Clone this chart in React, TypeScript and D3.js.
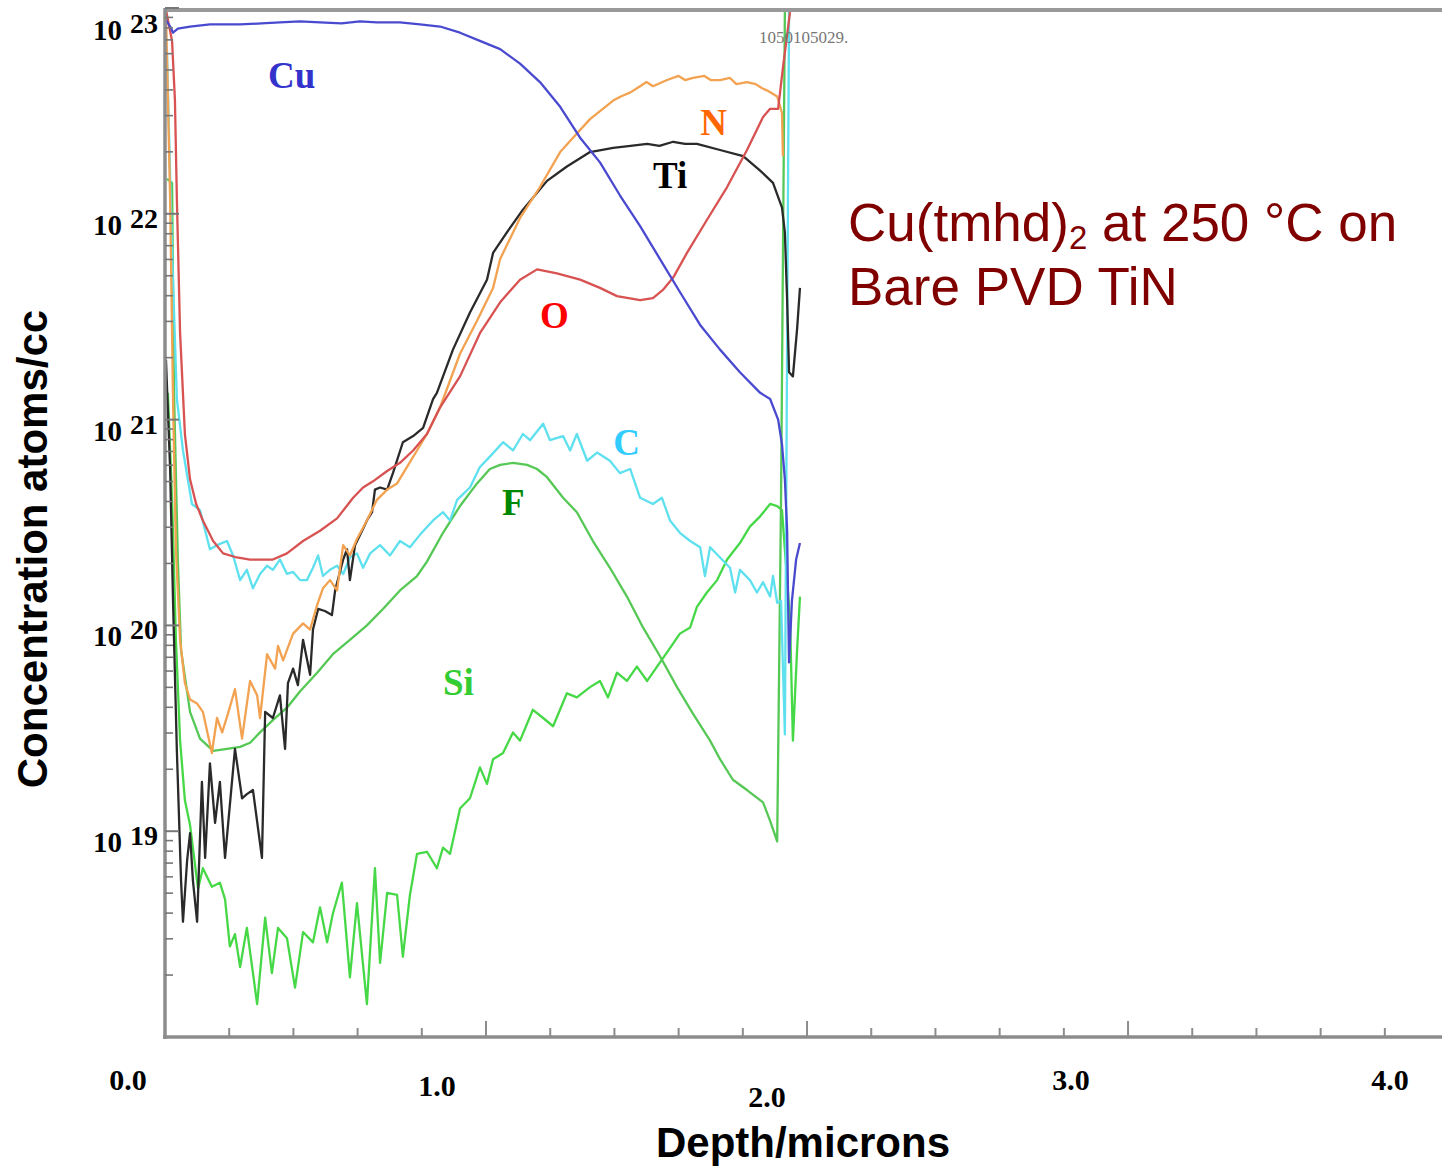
import React from "react";
import * as d3 from "d3";

// ---- data: [depth (µm), log10 concentration (atoms/cc)] ----
type P = [number, number];

const cu: P[] = [
  [0, 22.95], [0.016, 22.91], [0.025, 22.88], [0.04, 22.9], [0.078, 22.91], [0.14, 22.92],
  [0.234, 22.92], [0.3, 22.925], [0.358, 22.93], [0.42, 22.935], [0.483, 22.93], [0.55, 22.925],
  [0.607, 22.935], [0.66, 22.93], [0.732, 22.93], [0.794, 22.92], [0.857, 22.91], [0.919, 22.88],
  [0.981, 22.84], [1.044, 22.8], [1.106, 22.73], [1.168, 22.64], [1.231, 22.52], [1.293, 22.37],
  [1.355, 22.25], [1.417, 22.09], [1.48, 21.94], [1.542, 21.78], [1.604, 21.62], [1.667, 21.46],
  [1.729, 21.34], [1.791, 21.23], [1.854, 21.13], [1.885, 21.1], [1.91, 21.0], [1.922, 20.88],
  [1.931, 20.71], [1.938, 20.46], [1.941, 20.12], [1.944, 19.82], [1.953, 20.12], [1.966, 20.32],
  [1.978, 20.4],
];

const nitrogen: P[] = [
  [0.003, 22.99], [0.016, 22.07], [0.025, 21.1], [0.034, 20.37], [0.047, 19.93], [0.062, 19.72],
  [0.078, 19.64], [0.1, 19.62], [0.118, 19.58], [0.146, 19.38], [0.162, 19.55], [0.178, 19.48],
  [0.196, 19.57], [0.218, 19.69], [0.24, 19.45], [0.265, 19.73], [0.287, 19.66], [0.296, 19.55],
  [0.318, 19.86], [0.343, 19.79], [0.352, 19.9], [0.368, 19.83], [0.399, 19.96], [0.43, 20.01],
  [0.452, 19.98], [0.474, 20.1], [0.492, 20.18], [0.514, 20.22], [0.536, 20.17], [0.555, 20.39],
  [0.576, 20.34], [0.598, 20.42], [0.629, 20.51], [0.66, 20.61], [0.692, 20.66], [0.723, 20.69],
  [0.754, 20.77], [0.785, 20.85], [0.816, 20.93], [0.857, 21.06], [0.919, 21.32], [0.972, 21.48],
  [1.022, 21.64], [1.044, 21.78], [1.106, 21.98], [1.168, 22.13], [1.231, 22.3], [1.283, 22.39],
  [1.324, 22.46], [1.396, 22.55], [1.42, 22.57], [1.45, 22.59], [1.48, 22.62], [1.5, 22.64],
  [1.52, 22.62], [1.564, 22.65], [1.6, 22.67], [1.62, 22.65], [1.645, 22.66], [1.68, 22.67],
  [1.7, 22.65], [1.729, 22.65], [1.76, 22.66], [1.78, 22.63], [1.813, 22.64], [1.84, 22.63],
  [1.86, 22.61], [1.875, 22.6], [1.907, 22.57], [1.922, 22.49], [1.925, 22.28],
];

const titanium: P[] = [
  [0.003, 21.29], [0.016, 20.76], [0.025, 20.12], [0.037, 19.39], [0.05, 18.76], [0.056, 18.56],
  [0.069, 18.86], [0.078, 18.99], [0.087, 18.76], [0.1, 18.56], [0.115, 19.24], [0.125, 18.87],
  [0.14, 19.33], [0.156, 19.04], [0.171, 19.24], [0.187, 18.87], [0.218, 19.4], [0.24, 19.16],
  [0.255, 19.18], [0.274, 19.2], [0.302, 18.87], [0.312, 19.58], [0.336, 19.55], [0.358, 19.66],
  [0.374, 19.4], [0.383, 19.72], [0.399, 19.79], [0.414, 19.71], [0.43, 19.93], [0.452, 19.76],
  [0.461, 19.98], [0.477, 20.08], [0.498, 20.07], [0.52, 20.05], [0.53, 20.17], [0.555, 20.32],
  [0.567, 20.37], [0.576, 20.22], [0.592, 20.39], [0.617, 20.47], [0.629, 20.51], [0.645, 20.55],
  [0.654, 20.66], [0.67, 20.67], [0.692, 20.66], [0.71, 20.74], [0.741, 20.89], [0.773, 20.92],
  [0.804, 20.96], [0.835, 21.1], [0.847, 21.13], [0.897, 21.34], [0.95, 21.52], [1.003, 21.68],
  [1.022, 21.81], [1.065, 21.91], [1.115, 22.02], [1.19, 22.16], [1.252, 22.23], [1.324, 22.3],
  [1.396, 22.32], [1.45, 22.33], [1.502, 22.34], [1.54, 22.33], [1.583, 22.35], [1.62, 22.34],
  [1.657, 22.34], [1.729, 22.31], [1.801, 22.28], [1.854, 22.21], [1.894, 22.15], [1.922, 22.03],
  [1.931, 21.91], [1.938, 21.58], [1.944, 21.23], [1.956, 21.21], [1.969, 21.44], [1.978, 21.64],
];

const oxygen: P[] = [
  [0.003, 22.99], [0.022, 22.84], [0.031, 22.55], [0.037, 22.07], [0.047, 21.42], [0.062, 20.93],
  [0.078, 20.71], [0.097, 20.59], [0.118, 20.51], [0.15, 20.41], [0.181, 20.35], [0.224, 20.33],
  [0.265, 20.32], [0.336, 20.32], [0.38, 20.35], [0.43, 20.41], [0.483, 20.46], [0.536, 20.52],
  [0.586, 20.62], [0.617, 20.67], [0.648, 20.7], [0.692, 20.75], [0.732, 20.79], [0.773, 20.85],
  [0.816, 20.93], [0.857, 21.06], [0.919, 21.21], [0.981, 21.42], [1.044, 21.57], [1.106, 21.68],
  [1.159, 21.73], [1.221, 21.71], [1.293, 21.68], [1.355, 21.64], [1.408, 21.6], [1.48, 21.58],
  [1.52, 21.59], [1.551, 21.63], [1.583, 21.69], [1.626, 21.81], [1.688, 21.97], [1.751, 22.13],
  [1.813, 22.31], [1.863, 22.47], [1.885, 22.51], [1.91, 22.51], [1.925, 22.71], [1.947, 22.98],
];

const carbon: P[] = [
  [0.006, 22.8], [0.022, 21.82], [0.037, 21.1], [0.056, 20.85], [0.084, 20.59], [0.109, 20.56],
  [0.14, 20.37], [0.162, 20.39], [0.193, 20.41], [0.212, 20.34], [0.234, 20.22], [0.255, 20.27],
  [0.274, 20.18], [0.296, 20.25], [0.318, 20.29], [0.336, 20.27], [0.358, 20.32], [0.38, 20.25],
  [0.399, 20.26], [0.421, 20.22], [0.442, 20.22], [0.461, 20.28], [0.477, 20.34], [0.492, 20.24],
  [0.514, 20.27], [0.536, 20.29], [0.555, 20.25], [0.576, 20.33], [0.598, 20.35], [0.617, 20.28],
  [0.639, 20.35], [0.67, 20.39], [0.701, 20.34], [0.732, 20.41], [0.763, 20.38], [0.794, 20.44],
  [0.835, 20.51], [0.866, 20.55], [0.888, 20.51], [0.91, 20.61], [0.95, 20.67], [0.981, 20.77],
  [1.012, 20.82], [1.053, 20.89], [1.084, 20.85], [1.115, 20.93], [1.137, 20.9], [1.178, 20.98],
  [1.199, 20.9], [1.24, 20.92], [1.262, 20.85], [1.283, 20.93], [1.315, 20.8], [1.346, 20.84],
  [1.386, 20.8], [1.417, 20.74], [1.449, 20.76], [1.48, 20.62], [1.52, 20.59], [1.548, 20.62],
  [1.573, 20.51], [1.604, 20.45], [1.636, 20.41], [1.667, 20.38], [1.682, 20.24], [1.698, 20.38],
  [1.729, 20.33], [1.76, 20.28], [1.776, 20.16], [1.791, 20.27], [1.822, 20.22], [1.844, 20.16],
  [1.863, 20.21], [1.885, 20.14], [1.894, 20.24], [1.907, 20.11], [1.919, 20.12], [1.931, 19.47],
  [1.944, 22.99],
];

const fluorine: P[] = [
  [0.006, 22.17], [0.022, 22.15], [0.028, 21.14], [0.04, 20.32], [0.05, 19.88], [0.078, 19.58],
  [0.109, 19.45], [0.15, 19.39], [0.193, 19.4], [0.234, 19.41], [0.265, 19.43], [0.296, 19.48],
  [0.336, 19.54], [0.38, 19.6], [0.421, 19.68], [0.474, 19.77], [0.523, 19.86], [0.576, 19.93],
  [0.629, 20.0], [0.679, 20.08], [0.732, 20.17], [0.785, 20.24], [0.816, 20.31], [0.866, 20.45],
  [0.919, 20.58], [0.972, 20.69], [1.012, 20.76], [1.044, 20.78], [1.084, 20.79], [1.128, 20.78],
  [1.159, 20.76], [1.19, 20.72], [1.24, 20.62], [1.283, 20.55], [1.333, 20.41], [1.386, 20.28],
  [1.439, 20.14], [1.489, 19.99], [1.542, 19.85], [1.595, 19.7], [1.645, 19.57], [1.698, 19.44],
  [1.729, 19.35], [1.769, 19.25], [1.813, 19.2], [1.863, 19.14], [1.885, 19.05], [1.907, 18.95],
  [1.919, 20.61], [1.931, 22.99],
];

const silicon: P[] = [
  [0.009, 21.13], [0.022, 20.61], [0.034, 19.93], [0.047, 19.44], [0.062, 19.15], [0.078, 19.03],
  [0.103, 18.72], [0.118, 18.82], [0.146, 18.73], [0.171, 18.75], [0.187, 18.67], [0.202, 18.44],
  [0.218, 18.5], [0.234, 18.34], [0.255, 18.53], [0.287, 18.16], [0.312, 18.58], [0.333, 18.31],
  [0.352, 18.53], [0.38, 18.48], [0.405, 18.24], [0.43, 18.51], [0.461, 18.46], [0.483, 18.63],
  [0.505, 18.46], [0.523, 18.6], [0.551, 18.75], [0.576, 18.29], [0.598, 18.65], [0.629, 18.16],
  [0.654, 18.82], [0.67, 18.36], [0.692, 18.7], [0.723, 18.69], [0.741, 18.39], [0.763, 18.69],
  [0.785, 18.89], [0.816, 18.9], [0.847, 18.82], [0.866, 18.92], [0.888, 18.89], [0.919, 19.11],
  [0.95, 19.16], [0.981, 19.31], [1.003, 19.23], [1.022, 19.35], [1.053, 19.38], [1.084, 19.48],
  [1.106, 19.44], [1.146, 19.59], [1.178, 19.55], [1.209, 19.51], [1.252, 19.67], [1.283, 19.65],
  [1.324, 19.7], [1.355, 19.73], [1.38, 19.65], [1.408, 19.77], [1.439, 19.73], [1.47, 19.8],
  [1.502, 19.73], [1.542, 19.82], [1.573, 19.89], [1.604, 19.96], [1.636, 19.99], [1.657, 20.09],
  [1.688, 20.16], [1.72, 20.22], [1.751, 20.32], [1.791, 20.4], [1.822, 20.48], [1.854, 20.53],
  [1.885, 20.59], [1.907, 20.58], [1.922, 20.56], [1.947, 20.03], [1.956, 19.44], [1.969, 19.88],
  [1.978, 20.14],
];

const seriesNames = ["Si", "F", "C", "Ti", "N", "O", "Cu"];
const seriesData = [silicon, fluorine, carbon, titanium, nitrogen, oxygen, cu];
const seriesColors = ["#46d846", "#55c855", "#5ee0ee", "#2a2a2a", "#f2a250", "#d85252", "#4a4ad0"];

// element labels: anchor [depth, log10 conc]
const labelNames = ["Cu", "N", "Ti", "O", "C", "F", "Si"];
const labelAnchors: P[] = [
  [0.321, 22.61], [1.667, 22.383], [1.52, 22.125], [1.168, 21.445], [1.396, 20.828], [1.05, 20.536], [0.866, 19.662],
];
const labelColors = ["#3333cc", "#ff6600", "#000000", "#ff0000", "#33ccff", "#008800", "#33cc33"];

const xTickLabels = ["0.0", "1.0", "2.0", "3.0", "4.0"];
const xTickValues = [0, 1, 2, 3, 4];
const xLabelShift: [number, number][] = [[-37, 1090], [-49, 1096], [-40, 1107], [-57, 1090], [-59, 1090]];
const yDecades = [19, 20, 21, 22, 23];

const W = 1442;
const H = 1168;
const left = 165;
const right = 1442;
const bottom = 1037;
const top = 10;

const serif = "'Liberation Serif', 'Times New Roman', Times, serif";
const sans = "'Liberation Sans', Arial, Helvetica, sans-serif";

export default function App() {
  const x = d3.scaleLinear().domain([0, 3.978]).range([left, right]);
  const y = d3.scaleLog().domain([1e18, 1e23]).range([bottom, 8]);
  const line = d3
    .line<P>()
    .x((d) => x(d[0]))
    .y((d) => y(Math.pow(10, d[1])));

  const minorX = d3.range(0, 4.01, 0.2).filter((v) => Math.abs(v - Math.round(v)) > 0.01);
  const minorY: number[] = [];
  for (let k = 18; k < 23; k++) for (let m = 2; m <= 9; m++) minorY.push(m * Math.pow(10, k));

  const axisColor = "#8c8c8c";

  return (
    <svg
      width={W}
      height={H}
      style={{ position: "absolute", left: 0, top: 0, background: "#fff", display: "block" }}
    >
      <defs>
        <clipPath id="plotclip">
          <rect x={left} y={top - 2} width={right - left} height={bottom - top + 2} />
        </clipPath>
      </defs>
      <rect x={0} y={0} width={W} height={H} fill="#fff" />

      {/* series */}
      <g clipPath="url(#plotclip)" fill="none" strokeLinejoin="round">
        {seriesData.map((d, i) => (
          <path key={seriesNames[i]} d={line(d) || ""} stroke={seriesColors[i]} strokeWidth={2.3} />
        ))}
      </g>

      {/* frame */}
      <line x1={left} x2={right} y1={top} y2={top} stroke="#999" strokeWidth={4} />
      <line x1={left} x2={left} y1={top - 2} y2={bottom + 2} stroke={axisColor} strokeWidth={3.5} />
      <line x1={left - 2} x2={right} y1={bottom} y2={bottom} stroke={axisColor} strokeWidth={3.5} />

      {/* x ticks */}
      {xTickValues.map((v) => (
        <line key={"xM" + v} x1={x(v)} x2={x(v)} y1={bottom} y2={bottom - 16} stroke={axisColor} strokeWidth={2} />
      ))}
      {minorX.map((v) => (
        <line key={"xm" + v} x1={x(v)} x2={x(v)} y1={bottom} y2={bottom - 9} stroke={axisColor} strokeWidth={2} />
      ))}
      {/* y ticks */}
      {yDecades.map((k) => (
        <line key={"yM" + k} x1={left} x2={left + 14} y1={y(Math.pow(10, k))} y2={y(Math.pow(10, k))} stroke="#777" strokeWidth={2} />
      ))}
      {minorY.map((v) => (
        <line key={"ym" + v} x1={left} x2={left + 8} y1={y(v)} y2={y(v)} stroke="#777" strokeWidth={1.6} />
      ))}

      {/* y tick labels */}
      {yDecades.map((k) => {
        const base = Math.max(y(Math.pow(10, k)) + 21, 40);
        return (
          <g key={"yl" + k} fontFamily={serif} fontWeight="bold" fill="#000">
            <text x={122} y={base} textAnchor="end" fontSize={29}>10</text>
            <text x={130} y={base - 7} fontSize={28}>{k}</text>
          </g>
        );
      })}

      {/* x tick labels */}
      {xTickValues.map((v, i) => (
        <text
          key={"xl" + v}
          x={x(v) + xLabelShift[i][0]}
          y={xLabelShift[i][1]}
          textAnchor="middle"
          fontFamily={serif}
          fontWeight="bold"
          fontSize={30}
          fill="#000"
        >
          {xTickLabels[i]}
        </text>
      ))}

      {/* axis titles */}
      <text x={803} y={1157} textAnchor="middle" fontFamily={sans} fontWeight="bold" fontSize={42} fill="#000">
        Depth/microns
      </text>
      <text
        transform="translate(47,549) rotate(-90)"
        textAnchor="middle"
        fontFamily={sans}
        fontWeight="bold"
        fontSize={42}
        fill="#000"
      >
        Concentration atoms/cc
      </text>

      {/* small sample id */}
      <text x={759} y={43} fontFamily={serif} fontSize={17} fill="#777">1050105029.</text>

      {/* element labels */}
      {labelNames.map((n, i) => (
        <text
          key={"lab" + n}
          x={x(labelAnchors[i][0])}
          y={y(Math.pow(10, labelAnchors[i][1]))}
          fontFamily={serif}
          fontWeight="bold"
          fontSize={37}
          fill={labelColors[i]}
        >
          {n}
        </text>
      ))}

      {/* annotation */}
      <g fontFamily={sans} fontSize={53} fill="#800000">
        <text x={848} y={241}>
          Cu(tmhd)<tspan fontSize={33} dy={8}>2</tspan>
          <tspan dy={-8}> at 250 °C on</tspan>
        </text>
        <text x={848} y={305}>Bare PVD TiN</text>
      </g>
    </svg>
  );
}
